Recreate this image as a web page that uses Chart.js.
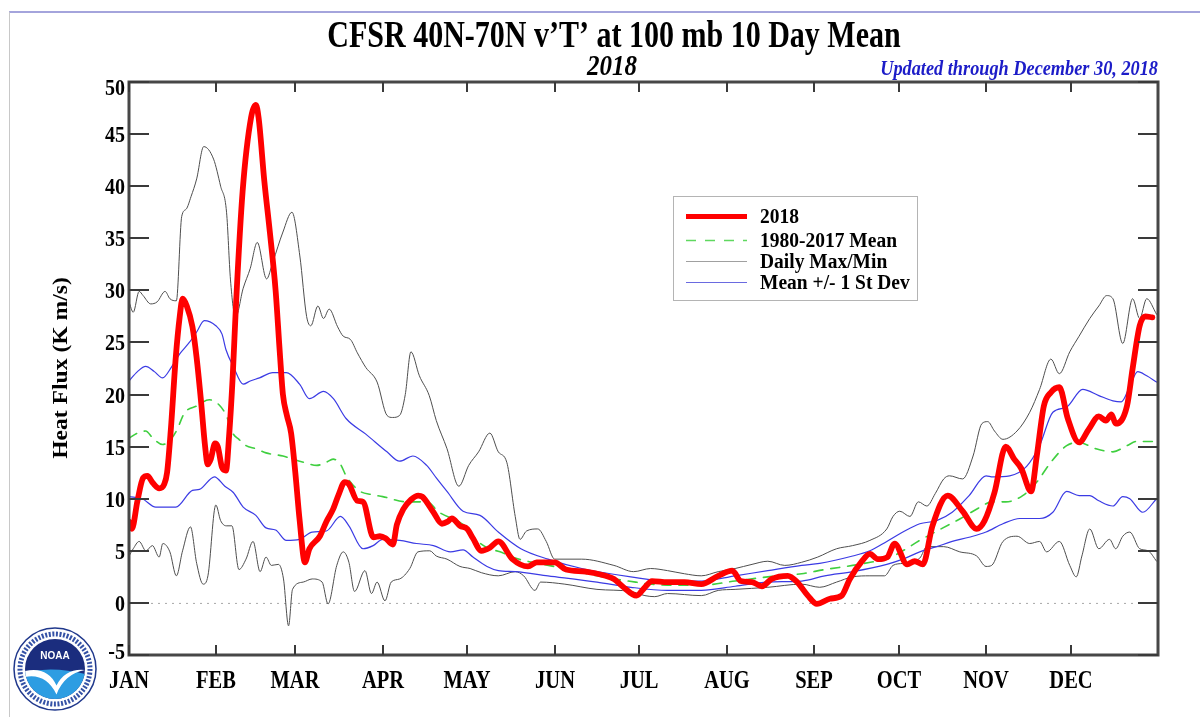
<!DOCTYPE html>
<html><head><meta charset="utf-8">
<script src="https://cdn.jsdelivr.net/npm/chart.js@4/dist/chart.umd.min.js"></script>
<style>
html,body{margin:0;padding:0;background:#fff;}
#wrap{position:relative;width:1200px;height:717px;overflow:hidden;background:#fff;}
#frame{position:absolute;left:9px;top:11px;width:1200px;height:720px;border-top:2px solid #a4a4dc;border-left:1px solid #c8c8c8;}
canvas{position:absolute;left:0;top:0;}
</style></head><body>
<div id="wrap"><div id="frame"></div><canvas id="c" width="1200" height="717"></canvas></div>
<script>
// ---------- text / ticks ----------
const titleText = "CFSR 40N-70N v\u2019T\u2019 at 100 mb 10 Day Mean";
const subtitleText = "2018";
const updatedText = "Updated through December 30, 2018";
const yAxisTitle = "Heat Flux (K m/s)";
const monthLabels = ["JAN","FEB","MAR","APR","MAY","JUN","JUL","AUG","SEP","OCT","NOV","DEC"];
const monthStartDays = [0,31,59,90,120,151,181,212,243,273,304,334];
const yTickValues = [-5,0,5,10,15,20,25,30,35,40,45,50];
const legendLabels = ["2018","1980-2017 Mean","Daily Max/Min","Mean +/- 1 St Dev"];

// ---------- data (day of year, value in K m/s) ----------
const days2018 = [0,1,3,5,6.5,8.5,10.7,12.5,13.5,14.8,16.6,18,19,20.5,22.5,24,25.5,27,27.9,29,30.5,31.5,33,34.4,35.5,36.8,38,40.3,43.3,45,46,48,50,52,53.5,54.6,56,57.5,59,60.5,62.4,64,67.7,70,72.4,74.5,76.5,78,81,83,86.7,89,91,93.6,95,97.3,100,102.6,104,108,111,113,114.5,117.4,120,122,125,128,131,136,141.5,144.6,151,155,162,169,172,175,180,183,185.5,191,197,203,209,214,217,221,224.5,228,233.7,237,240.8,244,248.6,252.8,255.7,260,262.8,265.6,269,271.6,276,278.7,281.6,285,290.4,295.7,300.7,303.5,307,311,314,316.5,320,322,324.5,327,330,333,337,340.5,344,346.5,348.5,350,354,356,358.5,360.5,363];
const vals2018 = [7.8,7.1,9.8,12.0,12.2,11.5,11.0,11.4,12.5,16.5,23.6,27.5,29.2,28.5,26.5,23.5,19.5,15.0,13.3,13.8,15.3,15.0,13.0,12.7,16.0,21.8,28.9,39.5,46.6,47.8,46.5,40.5,35.5,30.0,24.0,20.0,18.0,16.3,12.5,8.0,3.9,5.2,6.4,7.8,9.0,10.5,11.6,11.4,9.8,9.7,6.3,6.4,6.2,5.6,7.5,9.0,9.9,10.3,10.2,8.7,7.6,7.8,8.1,7.4,7.1,6.2,5.0,5.3,5.9,4.2,3.5,3.9,3.9,3.2,3.0,2.6,2.3,1.6,0.7,1.5,2.1,2.0,2.0,1.8,2.6,3.1,2.1,2.0,1.6,2.3,2.6,2.0,0.7,-0.1,0.4,0.7,2.3,4.0,4.7,4.2,4.4,5.7,3.7,4.0,3.7,7.4,10.3,8.8,7.1,7.9,10.6,15.0,13.8,12.9,10.7,14.1,18.9,20.2,20.7,17.7,15.4,16.7,17.9,17.5,18.1,17.2,18.9,22.5,26.6,27.5,27.4];

const daysMean = [0,3,5.9,8.5,11.9,14.5,17,19.6,24,28.5,32,34.5,36.8,39,41.5,45,48.6,54.6,58,62,66.6,70,72.4,75,77,79.5,82,86,90,98.5,105.7,110,117,120,123,127,131.6,137,143,154.6,166,177,191,203,215,226.6,238.6,246.8,256.7,263,268.8,274.5,280.5,288,295,302,306,311,317,322,327,332.6,337,343,349,354,357.5,364.5];
const valsMean = [15.8,16.3,16.5,15.8,15.2,15.6,16.6,18.2,18.9,19.5,19.0,18.0,16.3,15.7,15.1,14.8,14.4,14.1,13.8,13.5,13.2,13.5,13.8,13.3,12.2,11.3,10.7,10.4,10.2,9.7,9.7,8.7,7.8,7.2,6.1,5.3,4.9,4.3,3.9,3.3,2.6,2.1,1.7,1.7,2.1,2.5,2.8,3.2,3.6,3.9,4.2,5.0,6.0,7.1,8.1,9.2,9.7,9.7,10.3,11.6,13.5,15.1,15.4,14.8,14.5,15.1,15.5,15.5];

const daysUpper = [0,3,5.9,9,11.9,15,18,21.4,24,26.7,30.8,33,34.4,37,40.5,43,46.3,51,55.8,60.5,64,69,72.5,77,84,91.5,96,100.7,105.6,109,112.8,118.5,124.5,131,139,148.6,160.6,178,191,203,215,226.6,238.6,245,256.7,262.8,268.8,274.5,280.5,286.5,292,298,304,306.4,312.4,318.4,323,327.7,332.6,338.3,344,349,352,355,357.8,361,364.5];
const valsUpper = [21.3,22.2,22.7,22.2,21.6,22.6,23.9,25.0,26.0,27.1,26.6,25.8,24.3,22.7,21.0,21.3,21.6,22.1,22.1,21.0,19.6,20.3,19.6,17.7,16.2,14.5,13.6,14.1,13.2,12.0,10.7,8.8,8.4,6.8,5.2,4.2,3.3,2.5,2.1,2.1,2.6,3.1,3.6,3.8,4.5,5.0,5.9,6.8,7.6,7.9,8.7,10.3,12.2,12.1,12.2,13.1,15.1,18.3,18.8,20.5,19.9,19.4,19.3,20.8,22.2,21.8,21.2];

const daysLower = [0,4.7,9.5,16.6,22.5,25,30.3,34,37,40.5,45,48.6,52,55.8,60.5,65,70,75,78,83,86.6,90,96,102,108,114,118.5,122,127,131,137,148.6,166,178,191,203,215,226.6,238.6,246.8,256.7,268.8,274.5,280.5,286.5,292,298,304,310,316,323,327.7,332.6,337,340.8,344,349,352.5,355,359.6,364.5];
const valsLower = [10.2,10.0,9.2,9.2,10.8,10.9,12.1,11.2,10.6,9.2,8.4,7.2,7.0,6.0,6.1,6.8,6.9,8.3,7.4,5.2,5.5,6.1,6.0,5.7,5.5,4.9,5.1,4.4,3.5,3.1,3.0,2.6,2.0,1.5,1.2,1.2,1.6,2.0,2.1,2.6,3.0,3.7,4.2,4.9,5.4,5.9,6.3,6.8,7.6,8.1,8.1,8.7,10.7,10.3,10.3,9.8,9.3,10.2,10.0,8.7,10.0];

const daysMax = [0,1.5,3.6,5,7.7,10,12.8,14.5,16.8,18.7,20.3,22,24,26.5,30,32.5,34.6,36,37.8,40.5,43,45.5,48.8,51,54.6,57.8,60.6,63,64.5,67,69,71,74,76,78.5,81,84,88,91.5,93.5,96,98,100,103,106.5,109,112.8,117,120.5,124,128,131,134,137,138.7,141,145,148,151,160.6,172,179,185,191,197,203,209,215,221,226.6,232.6,238.6,244.3,251,256.7,262.8,268.8,271,273.4,277,280,283,286,289,291,295.7,299.4,302.5,304.6,307,310,315,319.5,323,327,330,333.7,337,340.8,344,346.8,349,352.5,356,358.5,361,364.5];
const valsMax = [28.9,27.9,29.9,29.5,28.7,28.9,29.9,29.2,29.0,37.1,37.8,39.0,40.7,43.8,42.6,40.0,37.5,31.0,27.4,30.2,32.1,34.6,31.1,32.7,35.6,37.5,33.3,27.5,26.6,28.5,27.3,28.2,26.5,25.6,25.3,24.0,22.6,21.2,18.0,17.8,18.0,20.0,24.1,21.8,19.9,17.5,14.8,11.2,13.2,14.5,16.3,14.5,13.5,8.3,6.1,6.9,7.1,5.9,4.2,4.2,3.6,3.0,3.3,3.1,2.8,2.6,3.0,3.3,3.7,4.0,3.6,3.9,4.4,5.2,5.5,6.0,7.1,8.3,8.8,8.3,9.7,9.3,10.5,11.9,12.2,11.9,14.1,17.2,17.4,16.5,15.7,16.5,18.3,20.5,23.4,22.0,24.1,25.6,27.3,28.5,29.5,29.2,24.9,29.2,27.3,29.2,27.7];

const daysMin = [0,1.5,3.6,6,8.3,10.7,12,14.5,16.8,19,21.8,24,26.3,28,30.8,32.5,34.5,36.5,39,41.5,44,46.5,48.6,50.5,53,54.8,56.6,58,61.8,65,68.5,70.6,73.7,76,78,80,83.7,86,88,90.8,93,96,99.6,102.5,106.7,109,112.8,117.4,121,125,131,137,140,144,146,154.6,166,178,183,186.5,191,203,209,215,226.6,238.6,245,251,256.7,262.8,268,271,274.5,280.5,283,289,294.7,300.7,304,306,310,315,319.5,323,325.5,330,333.7,336,338,340.8,344,347.8,350,352.5,355,358.5,361.5,364.5];
const valsMin = [4.5,5.2,5.9,5.0,5.5,4.4,5.7,4.9,2.6,5.0,7.3,3.8,1.8,2.6,9.4,7.9,7.4,7.4,3.2,4.2,5.9,3.0,4.4,3.6,3.7,2.3,-2.2,1.3,2.0,2.3,2.0,-0.1,3.6,4.9,3.9,1.1,3.1,0.9,2.0,0.2,2.0,2.3,3.3,4.9,5.0,4.5,4.2,3.5,3.3,2.9,2.6,3.0,2.6,1.2,2.0,1.8,1.3,1.1,0.7,0.6,0.9,0.7,1.2,1.3,1.5,1.8,1.5,2.0,2.5,2.6,2.6,3.6,3.8,4.3,5.4,5.4,4.9,4.5,3.5,3.6,5.9,6.4,5.7,5.9,4.9,5.9,3.6,2.5,4.5,7.1,5.2,6.1,5.2,6.4,6.8,5.2,5.0,4.0];

// ---------- styles ----------
const RED = '#ff0000', GREEN = '#3fcf3f', BLUE = '#3b3be4', GRAY = '#4e4e4e';
const SERIF = '"Liberation Serif","Times New Roman",serif';

function pts(d, v){ return d.map((x,i)=>({x:x, y:v[i]})); }
function line(label, d, v, color, width, dash){
  return {label, data: pts(d,v), borderColor: color, borderWidth: width, borderDash: dash || [],
    pointRadius: 0, fill: false, cubicInterpolationMode: 'monotone', borderJoinStyle: 'round', borderCapStyle: 'round'};
}

function sText(ctx, text, x, y, font, align, sy, color){
  ctx.save(); ctx.translate(x, y); ctx.scale(1, sy);
  ctx.font = font; ctx.textAlign = align; ctx.textBaseline = 'alphabetic';
  ctx.fillStyle = color || '#000'; ctx.fillText(text, 0, 0); ctx.restore();
}

function drawLogo(ctx, cx, cy, r){
  ctx.save();
  ctx.beginPath(); ctx.arc(cx,cy,r,0,2*Math.PI); ctx.fillStyle='#ffffff'; ctx.fill();
  ctx.lineWidth=1.5; ctx.strokeStyle='#20388c'; ctx.stroke();
  ctx.beginPath(); ctx.arc(cx,cy,r-6,0,2*Math.PI); ctx.setLineDash([2,1.6]); ctx.lineWidth=5; ctx.strokeStyle='#3552a6'; ctx.stroke(); ctx.setLineDash([]);
  const ri = r-11;
  ctx.beginPath(); ctx.arc(cx,cy,ri,0,2*Math.PI); ctx.fillStyle='#1b2d7e'; ctx.fill();
  ctx.save(); ctx.beginPath(); ctx.arc(cx,cy,ri,0,2*Math.PI); ctx.clip();
  ctx.beginPath(); ctx.moveTo(cx-ri,cy+3); ctx.quadraticCurveTo(cx,cy-3,cx+ri,cy+5); ctx.lineTo(cx+ri,cy+ri); ctx.lineTo(cx-ri,cy+ri); ctx.closePath(); ctx.fillStyle='#2d9de2'; ctx.fill();
  ctx.beginPath(); ctx.moveTo(cx-ri,cy+2); ctx.quadraticCurveTo(cx-ri*0.25,cy-3,cx+ri*0.05,cy+ri*0.55);
  ctx.quadraticCurveTo(cx+ri*0.35,cy-1,cx+ri,cy+1); ctx.quadraticCurveTo(cx+ri*0.3,cy+5,cx+ri*0.05,cy+ri*0.85);
  ctx.quadraticCurveTo(cx-ri*0.3,cy+4,cx-ri,cy+8); ctx.closePath(); ctx.fillStyle='#ffffff'; ctx.fill();
  ctx.restore();
  ctx.fillStyle='#ffffff'; ctx.font='bold 10px "Liberation Sans",Arial,sans-serif'; ctx.textAlign='center'; ctx.textBaseline='middle';
  ctx.fillText('NOAA', cx, cy-ri*0.42);
  ctx.restore();
}

const decor = {
  id: 'decor',
  beforeDatasetsDraw(chart){
    const {ctx, chartArea:a, scales:{y}} = chart;
    const y0 = y.getPixelForValue(0);
    ctx.save(); ctx.strokeStyle='#a8a8a8'; ctx.lineWidth=1; ctx.setLineDash([2,5]);
    ctx.beginPath(); ctx.moveTo(a.left+22, y0+0.5); ctx.lineTo(a.right-20, y0+0.5); ctx.stroke(); ctx.restore();
  },
  afterDatasetsDraw(chart){
    const {ctx, chartArea:a, scales:{x, y}} = chart;
    ctx.save();
    // frame
    ctx.strokeStyle='#474747'; ctx.lineWidth=3;
    ctx.strokeRect(a.left, a.top, a.right-a.left, a.bottom-a.top);
    // y ticks + labels
    ctx.lineWidth=2; ctx.strokeStyle='#3a3a3a';
    const yMin = yTickValues[0], yMax = yTickValues[yTickValues.length-1];
    yTickValues.forEach(v=>{
      const py = Math.round(y.getPixelForValue(v));
      ctx.beginPath(); ctx.moveTo(a.left, py); ctx.lineTo(a.left+20, py);
      ctx.moveTo(a.right-20, py); ctx.lineTo(a.right, py); ctx.stroke();
      const shift = v === yMax ? 5 : (v === yMin ? -4 : 0);
      sText(ctx, String(v), a.left-4, py+8+shift, 'bold 20px '+SERIF, 'right', 1.2);
    });
    // x ticks + labels
    monthStartDays.forEach((d,i)=>{
      const px = Math.round(x.getPixelForValue(d));
      ctx.beginPath(); ctx.moveTo(px, a.bottom); ctx.lineTo(px, a.bottom-10);
      ctx.moveTo(px, a.top); ctx.lineTo(px, a.top+10); ctx.stroke();
      sText(ctx, monthLabels[i], px, a.bottom+33, 'bold 20.5px '+SERIF, 'center', 1.2);
    });
    // titles
    sText(ctx, titleText, 614, 47, 'bold 30px '+SERIF, 'center', 1.28);
    sText(ctx, subtitleText, 612, 75, 'italic bold 25px '+SERIF, 'center', 1.15);
    sText(ctx, updatedText, a.right, 75, 'italic bold 18.3px '+SERIF, 'right', 1.1, '#1c1cc8');
    // y axis title
    ctx.save(); ctx.translate(67, 368); ctx.rotate(-Math.PI/2); ctx.scale(1.18,1);
    ctx.font='bold 20px '+SERIF; ctx.textAlign='center'; ctx.textBaseline='alphabetic'; ctx.fillStyle='#000';
    ctx.fillText(yAxisTitle, 0, 0); ctx.restore();
    // legend
    ctx.fillStyle='#ffffff'; ctx.fillRect(673.5,196.5,244,104);
    ctx.strokeStyle='#b4b4b4'; ctx.lineWidth=1; ctx.strokeRect(673.5,196.5,244,104);
    const legStyles = [[RED,5,[]],['#5fd85f',1.6,[10,9]],['#a0a0a0',1,[]],['#6a6ae0',1.2,[]]];
    const legY = [216,240,261,282];
    legendLabels.forEach((lab,i)=>{
      const [c,w,dash] = legStyles[i];
      ctx.save(); ctx.strokeStyle=c; ctx.lineWidth=w; ctx.setLineDash(dash);
      ctx.beginPath(); ctx.moveTo(686, legY[i]+0.5); ctx.lineTo(747, legY[i]+0.5); ctx.stroke(); ctx.restore();
      sText(ctx, lab, 760, legY[i]+7, 'bold 19.5px '+SERIF, 'left', 1.08);
    });
    drawLogo(ctx, 55, 669, 41);
    ctx.restore();
  }
};

new Chart(document.getElementById('c'), {
  type: 'line',
  data: { datasets: [
    line('2018', days2018, vals2018, RED, 5.8),
    line('1980-2017 Mean', daysMean, valsMean, GREEN, 1.6, [9,8]),
    line('Mean + 1 St Dev', daysUpper, valsUpper, BLUE, 1.2),
    line('Mean - 1 St Dev', daysLower, valsLower, BLUE, 1.2),
    line('Daily Max', daysMax, valsMax, GRAY, 1),
    line('Daily Min', daysMin, valsMin, GRAY, 1)
  ]},
  options: {
    responsive: false, animation: false, devicePixelRatio: 1, events: [],
    layout: { padding: { left: 129, right: 42, top: 82, bottom: 62 } },
    scales: {
      x: { type: 'linear', min: 0, max: 365, display: false },
      y: { type: 'linear', min: -5, max: 50, display: false }
    },
    plugins: { legend: { display: false }, tooltip: { enabled: false }, title: { display: false } }
  },
  plugins: [decor]
});
</script>
</body></html>
